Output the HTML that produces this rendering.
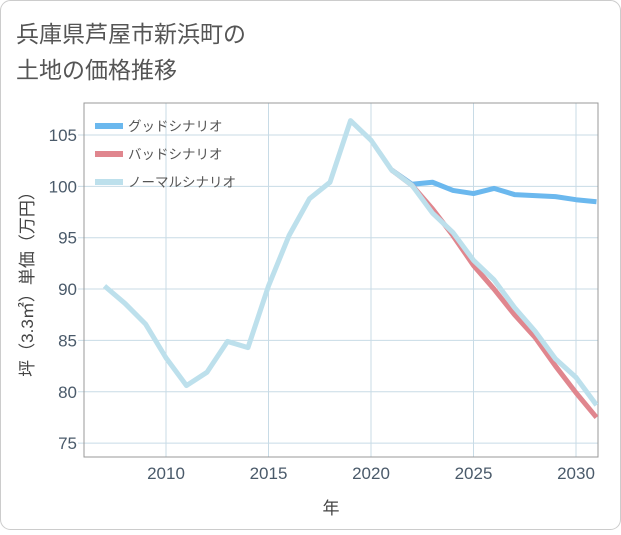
<!DOCTYPE html>
<html><head><meta charset="utf-8">
<style>
body{margin:0;background:#fff;}
#wrap{position:relative;width:621px;height:530px;font-family:"Liberation Sans","Noto Sans CJK JP",sans-serif;}
</style></head>
<body>
<div id="wrap">
<svg id="chart" width="621" height="530">
<rect x="0.5" y="0.5" width="620" height="529" rx="10" fill="#fff" stroke="#ccc"/>
<text x="16" y="42" font-size="23" fill="#555">兵庫県芦屋市新浜町の</text>
<text x="16" y="78" font-size="23" fill="#555">土地の価格推移</text>
<g id="grid"></g>
<rect x="84" y="103" width="514" height="354" fill="none" stroke="#999"/>
<g id="series"></g>
<g id="legend"></g>
<text x="331" y="514" font-size="17" fill="#444" text-anchor="middle">年</text>
<text transform="translate(33,280) rotate(-90)" font-size="17" fill="#444" text-anchor="middle">坪（3.3㎡）単価（万円）</text>
</svg>
</div>
<script>
const years=[2007,2008,2009,2010,2011,2012,2013,2014,2015,2016,2017,2018,2019,2020,2021,2022,2023,2024,2025,2026,2027,2028,2029,2030,2031];
const normalVals=[90.3,88.6,86.6,83.3,80.6,81.9,84.9,84.3,90.3,95.2,98.8,100.4,106.4,104.5,101.6,100.1,97.4,95.5,92.8,90.9,88.2,85.9,83.2,81.4,78.7];
const goodYears=[2021,2022,2023,2024,2025,2026,2027,2028,2029,2030,2031];
const goodVals=[101.6,100.2,100.4,99.6,99.3,99.8,99.2,99.1,99.0,98.7,98.5];
const badVals=[101.6,100.1,97.8,95.2,92.3,90.0,87.5,85.3,82.5,79.9,77.5];
const xTicks=[2010,2015,2020,2025,2030];
const yTicks=[75,80,85,90,95,100,105];
const NS='http://www.w3.org/2000/svg';
const X=y=>166+(y-2010)*20.5;
const Y=v=>135+(105-v)*10.27;
function mk(t,a,p){const e=document.createElementNS(NS,t);for(const k in a)e.setAttribute(k,a[k]);p.appendChild(e);return e;}
const grid=document.getElementById('grid');
xTicks.forEach(t=>{
 const l=mk('line',{x1:X(t),x2:X(t),y1:103,y2:457,stroke:'#c8dbe6'},grid);
 
 
 const tx=mk('text',{x:X(t),y:479,'font-size':17,fill:'#4a5a6a','text-anchor':'middle'},grid);
 tx.textContent=t;
 
 
});
yTicks.forEach(t=>{
 const l=mk('line',{x1:78,x2:598,y1:Y(t),y2:Y(t),stroke:'#c8dbe6'},grid);
 
 
 const tx=mk('text',{x:77,y:Y(t)+6,'font-size':17,fill:'#4a5a6a','text-anchor':'end'},grid);
 tx.textContent=t;
 
 
});
const ser=document.getElementById('series');
const clip=mk('clipPath',{id:'pc'},ser);mk('rect',{x:84,y:103,width:514,height:354},clip);
function line(xs,vs,color,name){
 const p=mk('polyline',{points:xs.map((y,i)=>X(y)+','+Y(vs[i])).join(' '),fill:'none',stroke:color,'stroke-width':5,'stroke-linejoin':'round','clip-path':'url(#pc)'},ser);
 
 
}
line(goodYears,goodVals,'#6bb8ee','good-scenario-line');
line(goodYears,badVals,'#e0868e','bad-scenario-line');
line(years,normalVals,'#bde0ec','normal-scenario-line');
const leg=document.getElementById('legend');
[['グッドシナリオ','#6bb8ee'],['バッドシナリオ','#e0868e'],['ノーマルシナリオ','#bde0ec']].forEach((d,i)=>{
 const y=126+i*28;
 const g=mk('g',{},leg);
 
 
 mk('rect',{x:95,y:y-3,width:28,height:6,fill:d[1]},g);
 const t=mk('text',{x:128,y:y+5,'font-size':13.5,fill:'#555'},g);t.textContent=d[0];
});
</script>
</body></html>
